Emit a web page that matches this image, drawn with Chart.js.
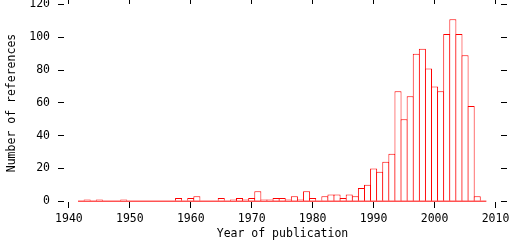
<!DOCTYPE html>
<html>
<head>
<meta charset="utf-8">
<title>Year of publication</title>
<script src="https://cdn.jsdelivr.net/npm/chart.js@4.4.1/dist/chart.umd.min.js"></script>
<style>
	html, body { margin: 0; padding: 0; background: #fff; }
	canvas { display: block; }
</style>
</head>
<body>
<canvas id="histChart" width="512" height="240"></canvas>
<script>
(function() {
	'use strict';

	// Publication years (one box per year)
	var years = [
		1942, 1943, 1944, 1945, 1946, 1947, 1948, 1949, 1950, 1951,
		1952, 1953, 1954, 1955, 1956, 1957, 1958, 1959, 1960, 1961,
		1962, 1963, 1964, 1965, 1966, 1967, 1968, 1969, 1970, 1971,
		1972, 1973, 1974, 1975, 1976, 1977, 1978, 1979, 1980, 1981,
		1982, 1983, 1984, 1985, 1986, 1987, 1988, 1989, 1990, 1991,
		1992, 1993, 1994, 1995, 1996, 1997, 1998, 1999, 2000, 2001,
		2002, 2003, 2004, 2005, 2006, 2007, 2008
	];

	// Number of references per year
	var counts = [
		0, 1, 0, 1, 0, 0, 0, 1, 0, 0,
		0, 0, 0, 0, 0, 0, 2, 0, 2, 3,
		0, 0, 0, 2, 0, 1, 2, 1, 2, 6,
		1, 1, 2, 2, 1, 3, 1, 6, 2, 0,
		3, 4, 4, 2, 4, 3, 8, 10, 20, 18,
		24, 29, 67, 50, 64, 90, 93, 81, 70, 67,
		102, 111, 102, 89, 58, 3, 0
	];

	var xTicks = [1940, 1950, 1960, 1970, 1980, 1990, 2000, 2010];
	var yTicks = [0, 20, 40, 60, 80, 100, 120];

	var boxColor = '#ff0000';
	var font = { family: 'DejaVu Sans Mono', size: 11.5 };

	var boxes = years.map(function(year, i) {
		return { x: year, y: counts[i] };
	});

	// zero line under the whole histogram
	var baseline = [
		{ x: years[0] - 0.5, y: 0 },
		{ x: years[years.length - 1] + 0.5, y: 0 }
	];

	function setTicks(list) {
		return function(scale) {
			scale.ticks = list.map(function(v) { return { value: v }; });
		};
	}

	// fixed axis size, no extra label padding around the plot
	function fixSize(prop, size) {
		return function(scale) {
			scale[prop] = size;
			scale.paddingTop = 0;
			scale.paddingBottom = 0;
			scale.paddingLeft = 0;
			scale.paddingRight = 0;
		};
	}

	var tickGrid = {
		drawOnChartArea: false,
		drawTicks: true,
		offset: false,
		tickLength: 6,
		color: '#000',
		lineWidth: 1
	};

	new Chart(document.getElementById('histChart'), {
		type: 'bar',
		data: {
			datasets: [{
				type: 'line',
				data: baseline,
				borderColor: boxColor,
				borderWidth: 1,
				pointRadius: 0,
				fill: false,
				order: 0
			}, {
				data: boxes,
				backgroundColor: '#fff',
				borderColor: boxColor,
				borderWidth: 1,
				borderSkipped: 'start',
				barPercentage: 1.16,
				categoryPercentage: 1,
				order: 1
			}]
		},
		options: {
			responsive: false,
			animation: false,
			layout: { padding: 0, autoPadding: false },
			plugins: {
				legend: { display: false },
				tooltip: { enabled: false }
			},
			scales: {
				x: {
					type: 'linear',
					position: 'bottom',
					offset: false,
					min: 1939.2,
					max: 2010.9,
					afterBuildTicks: setTicks(xTicks),
					afterFit: fixSize('height', 38),
					border: { display: false },
					grid: tickGrid,
					ticks: {
						color: '#000',
						font: font,
						padding: 4,
						maxRotation: 0,
						autoSkip: false,
						callback: function(v) { return String(v); }
					},
					title: {
						display: true,
						text: 'Year of publication',
						color: '#000',
						font: font,
						padding: { top: 0, bottom: -1 }
					}
				},
				x2: {
					type: 'linear',
					position: 'top',
					offset: false,
					min: 1939.2,
					max: 2010.9,
					afterBuildTicks: setTicks(xTicks),
					afterFit: fixSize('height', 4),
					border: { display: false },
					grid: tickGrid,
					ticks: { display: false }
				},
				y: {
					position: 'left',
					min: -0.5,
					max: 120.3,
					afterBuildTicks: setTicks(yTicks),
					afterFit: fixSize('width', 64),
					border: { display: false },
					grid: tickGrid,
					ticks: {
						color: '#000',
						font: font,
						padding: 8
					},
					title: {
						display: true,
						text: 'Number of references',
						color: '#000',
						font: font,
						padding: { top: 5, bottom: 0 }
					}
				},
				y2: {
					position: 'right',
					min: -0.5,
					max: 120.3,
					afterBuildTicks: setTicks(yTicks),
					afterFit: fixSize('width', 11),
					border: { display: false },
					grid: tickGrid,
					ticks: { display: false }
				}
			}
		}
	});
})();
</script>
</body>
</html>
